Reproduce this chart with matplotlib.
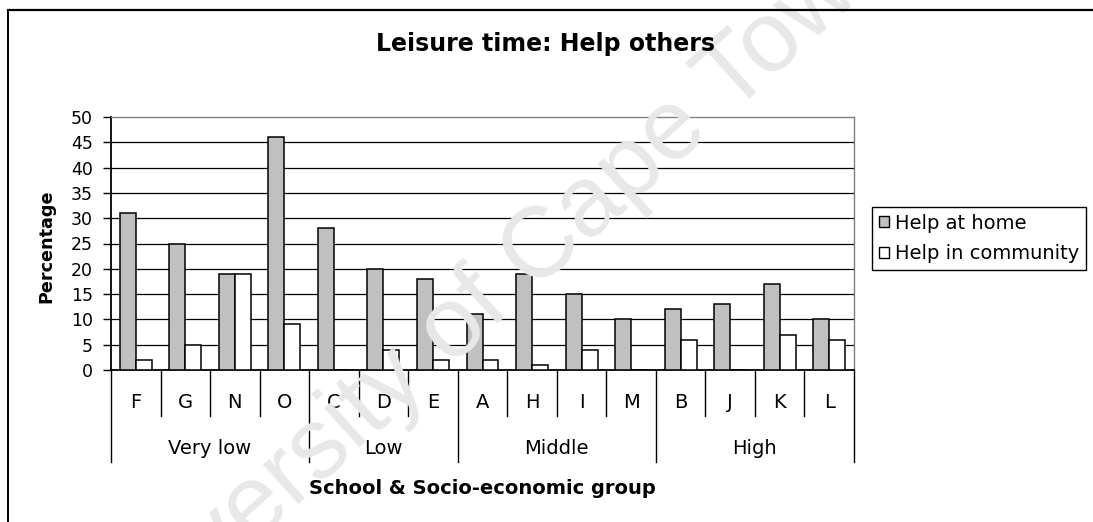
import numpy as np
import matplotlib
matplotlib.use("Agg")
import matplotlib.pyplot as plt
from matplotlib.lines import Line2D
from matplotlib.patches import Patch

plt.rcParams["font.family"] = ["DejaVu Sans"]

schools = ["F", "G", "N", "O", "C", "D", "E", "A", "H", "I", "M", "B", "J", "K", "L"]
groups = ["Very low", "Low", "Middle", "High"]
group_sizes = [4, 3, 4, 4]
help_home = [31, 25, 19, 46, 28, 20, 18, 11, 19, 15, 10, 12, 13, 17, 10]
help_community = [2, 5, 19, 9, 0, 4, 2, 2, 1, 4, 0, 6, 0, 7, 6]
yticks = [0, 5, 10, 15, 20, 25, 30, 35, 40, 45, 50]

W, H = 1093, 522
fig = plt.figure(figsize=(W / 100, H / 100), dpi=100)

# faint watermark behind everything
fig.text(487 / W, 1 - 300 / H, "University of Cape Town", fontsize=72,
         family="Liberation Sans", color="#e8e8e8", rotation=42,
         ha="center", va="center", zorder=0)

# outer chart frame (right and bottom sides fall outside the image)
fig.add_artist(Line2D([8 / W, 8 / W], [1 - 10 / H, -0.05], color="black",
                      lw=1.4, transform=fig.transFigure))
fig.add_artist(Line2D([8 / W, 1.05], [1 - 10 / H, 1 - 10 / H], color="black",
                      lw=1.6, transform=fig.transFigure))

left, right, top, bottom = 111, 854, 117, 370
ax = fig.add_axes([left / W, 1 - bottom / H, (right - left) / W, (bottom - top) / H])
ax.patch.set_alpha(0)

x = np.arange(len(schools))
bw = 0.323
ax.bar(x - bw / 2, help_home, width=bw, color="#c0c0c0", edgecolor="black",
       linewidth=1.1, zorder=3)
ax.bar(x + bw / 2, help_community, width=bw, color="white", edgecolor="black",
       linewidth=1.1, zorder=3)

ax.set_xlim(-0.5, len(schools) - 0.5)
ax.set_ylim(0, 50)
ax.set_yticks(yticks)
ax.set_yticklabels([str(v) for v in yticks], fontsize=12.5)
ax.tick_params(axis="y", length=6, width=1, pad=7, direction="out")
ax.set_xticks([])
for v in yticks[1:-1]:
    ax.axhline(v, color="black", lw=0.9, zorder=1)

ax.spines["left"].set_linewidth(1.3)
ax.spines["bottom"].set_linewidth(1.3)
ax.spines["top"].set_color("#808080")
ax.spines["right"].set_color("#808080")
ax.spines["top"].set_linewidth(1.0)
ax.spines["right"].set_linewidth(1.0)

# two-level category axis
ah = bottom - top
short_y = -(416 - bottom) / ah
long_y = -(462 - bottom) / ah
trans = ax.get_xaxis_transform()
bounds = np.cumsum([0] + group_sizes) - 0.5
for i in range(len(schools) + 1):
    xb = i - 0.5
    y_end = long_y if xb in bounds else short_y
    ax.plot([xb, xb], [0, y_end], color="black", lw=1.0, transform=trans,
            clip_on=False)
for i, s in enumerate(schools):
    ax.text(i, -(403 - bottom) / ah, s, transform=trans, ha="center",
            va="center", fontsize=14)
for g, a, b in zip(groups, bounds[:-1], bounds[1:]):
    ax.text((a + b) / 2, -(449 - bottom) / ah, g, transform=trans,
            ha="center", va="center", fontsize=14)

ax.text(0.5, -(488 - bottom) / ah, "School & Socio-economic group",
        transform=ax.transAxes, ha="center", va="center", fontsize=14,
        fontweight="bold")
fig.text(46 / W, 1 - 246 / H, "Percentage", rotation=90, ha="center",
         va="center", fontsize=12.7, fontweight="bold")
fig.text(546 / W, 1 - 44 / H, "Leisure time: Help others", ha="center",
         va="center", fontsize=17, fontweight="bold")

handles = [Patch(facecolor="#c0c0c0", edgecolor="black", lw=1.0),
           Patch(facecolor="white", edgecolor="black", lw=1.0)]
leg = fig.legend(handles, ["Help at home", "Help in community"],
                 loc="upper left", bbox_to_anchor=(872 / W, 1 - 207 / H),
                 bbox_transform=fig.transFigure, fontsize=14, frameon=True,
                 fancybox=False, handlelength=0.5, handleheight=0.5,
                 handletextpad=0.35, labelspacing=0.6, borderpad=0.35,
                 borderaxespad=0, edgecolor="black", framealpha=1)
leg.get_frame().set_linewidth(1.0)

fig.savefig("out.png", dpi=100, facecolor="white")
